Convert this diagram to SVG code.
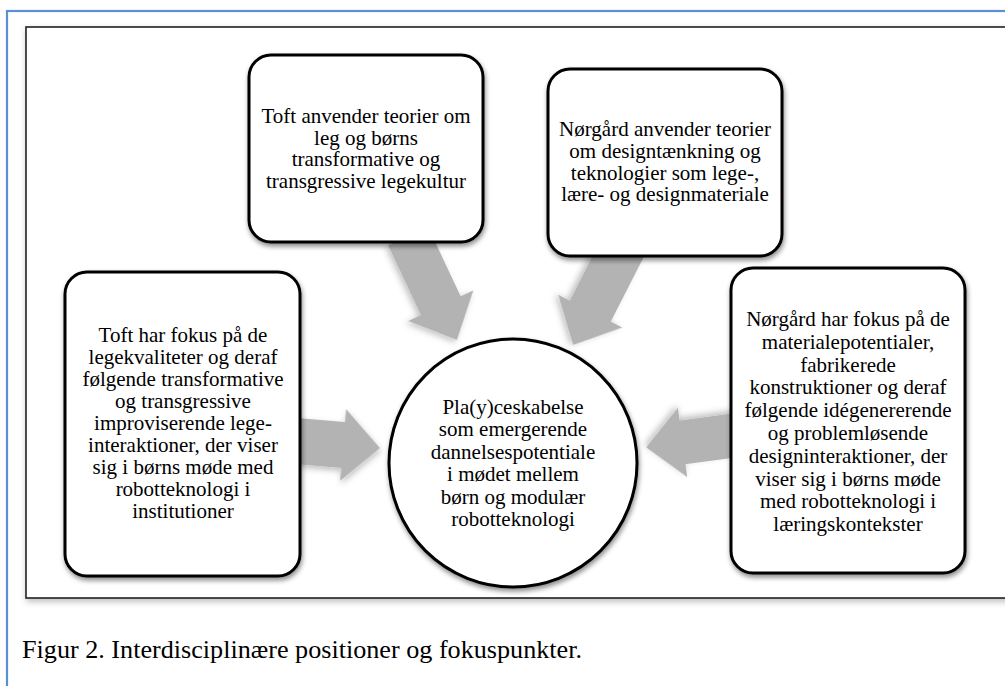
<svg xmlns="http://www.w3.org/2000/svg" width="1005" height="686" viewBox="0 0 1005 686">
<defs>
<filter id="sh" x="-20%" y="-20%" width="140%" height="140%">
<feDropShadow dx="1" dy="3" stdDeviation="2.5" flood-color="#000" flood-opacity="0.45"/>
</filter>
<filter id="ash" x="-30%" y="-30%" width="160%" height="160%">
<feDropShadow dx="1" dy="3" stdDeviation="3" flood-color="#000" flood-opacity="0.25"/>
</filter>
<style>
.box{fill:#fff;stroke:#000;stroke-width:3;filter:url(#sh)}
.arr{fill:#b3b3b3;filter:url(#ash)}
.t{font-family:"Liberation Serif","Times New Roman",serif;font-size:21px;fill:#000;text-anchor:middle}
.cap{font-family:"Liberation Serif","Times New Roman",serif;font-size:25px;fill:#000}
</style>
</defs>
<rect x="0" y="0" width="1005" height="686" fill="#fff"/>
<rect x="7" y="11" width="1010" height="690" fill="none" stroke="#5a8fd5" stroke-width="2.2"/>
<rect x="26" y="27" width="990" height="571" fill="#fff" stroke="#222" stroke-width="1.6" filter="url(#ash)"/>

<g id="connectors">
<path class="arr" transform="translate(290,440.5) rotate(4.8)" d="M0,-23 L53.3,-23 L53.3,-36 L90.3,0 L53.3,36 L53.3,23 L0,23 Z"/>
<path class="arr" transform="translate(741,434.5) rotate(172.3)" d="M0,-22 L59,-22 L59,-35 L95.8,0 L59,35 L59,22 L0,22 Z"/>
<path class="arr" transform="translate(408,236) rotate(64.8)" d="M0,-22 L77,-22 L77,-36 L115,0 L77,36 L77,22 L0,22 Z"/>
<path class="arr" transform="translate(623,247) rotate(117)" d="M0,-23 L72,-23 L72,-36 L110,0 L72,36 L72,23 L0,23 Z"/>
</g>

<g id="node-top-left">
<rect class="box" x="249" y="55" width="234" height="187" rx="22"/>
<text class="t"><tspan x="366" y="123">Toft anvender teorier om</tspan><tspan x="366" y="144.5">leg og børns</tspan><tspan x="366" y="166">transformative og</tspan><tspan x="366" y="187.5">transgressive legekultur</tspan></text>
</g>

<g id="node-top-right">
<rect class="box" x="548" y="69" width="234" height="187" rx="22"/>
<text class="t"><tspan x="665" y="136">Nørgård anvender teorier</tspan><tspan x="665" y="158">om designtænkning og</tspan><tspan x="665" y="179.5">teknologier som lege-,</tspan><tspan x="665" y="201">lære- og designmateriale</tspan></text>
</g>

<g id="node-left">
<rect class="box" x="65" y="272" width="235" height="304" rx="22"/>
<text class="t"><tspan x="183" y="342">Toft har fokus på de</tspan><tspan x="183" y="364">legekvaliteter og deraf</tspan><tspan x="183" y="386">følgende transformative</tspan><tspan x="183" y="408">og transgressive</tspan><tspan x="183" y="430">improviserende lege-</tspan><tspan x="183" y="452">interaktioner, der viser</tspan><tspan x="183" y="474">sig i børns møde med</tspan><tspan x="183" y="496">robotteknologi i</tspan><tspan x="183" y="518">institutioner</tspan></text>
</g>

<g id="node-right">
<rect class="box" x="731" y="268" width="234" height="305" rx="22"/>
<text class="t"><tspan x="848" y="326">Nørgård har fokus på de</tspan><tspan x="848" y="348.8">materialepotentialer,</tspan><tspan x="848" y="371.6">fabrikerede</tspan><tspan x="848" y="394.4">konstruktioner og deraf</tspan><tspan x="848" y="417.2">følgende idégenererende</tspan><tspan x="848" y="440">og problemløsende</tspan><tspan x="848" y="462.8">designinteraktioner, der</tspan><tspan x="848" y="485.6">viser sig i børns møde</tspan><tspan x="848" y="508.4">med robotteknologi i</tspan><tspan x="848" y="531.2">læringskontekster</tspan></text>
</g>

<g id="node-center">
<circle class="box" cx="513" cy="463" r="124"/>
<text class="t"><tspan x="513" y="414">Pla(y)ceskabelse</tspan><tspan x="513" y="436.4">som emergerende</tspan><tspan x="513" y="458.8">dannelsespotentiale</tspan><tspan x="513" y="481.2">i mødet mellem</tspan><tspan x="513" y="503.6">børn og modulær</tspan><tspan x="513" y="526">robotteknologi</tspan></text>
</g>

<text class="cap" x="22" y="658" textLength="560" lengthAdjust="spacingAndGlyphs">Figur 2. Interdisciplinære positioner og fokuspunkter.</text>
</svg>
